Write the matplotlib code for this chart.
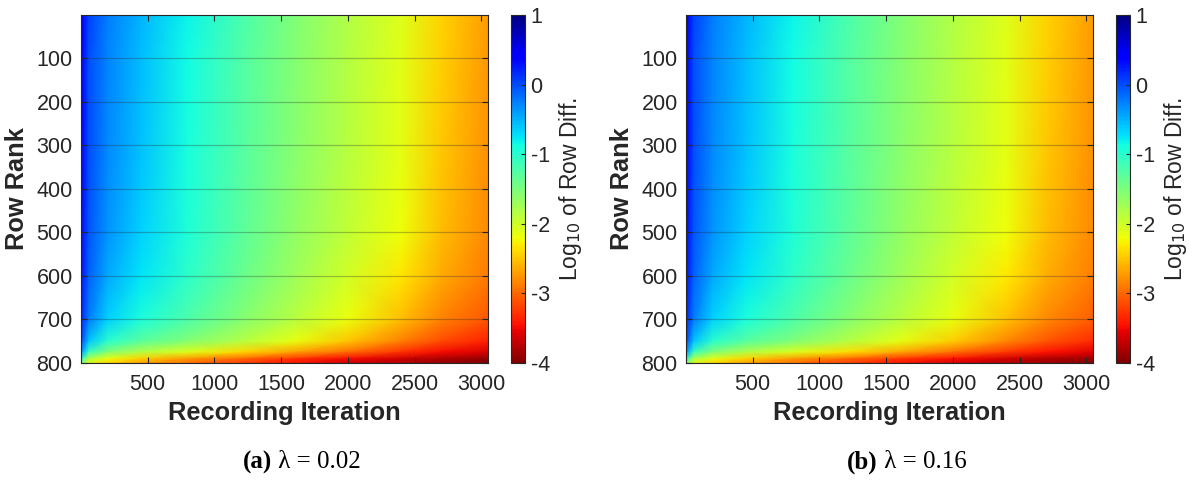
import numpy as np
import matplotlib
matplotlib.use("Agg")
import matplotlib.pyplot as plt

# ---------------- data ----------------
iterations = [1, 15, 60, 200, 450, 800, 1200, 1600, 2000, 2400, 2700, 3050]
row_ranks = [1, 100, 300, 500, 600, 700, 750, 775, 790, 800]

# log10 of row difference, panel (a) lambda = 0.02 (rows x iterations)
log_diff_a = [
    [0.60, 0.35, 0.05, -0.25, -0.52, -0.83, -1.20, -1.52, -1.82, -2.10, -2.42, -2.72],
    [0.60, 0.30, 0.00, -0.28, -0.55, -0.87, -1.23, -1.55, -1.85, -2.12, -2.45, -2.74],
    [0.55, 0.30, 0.00, -0.30, -0.58, -0.90, -1.25, -1.57, -1.87, -2.14, -2.48, -2.77],
    [0.55, 0.25, -0.05, -0.35, -0.65, -0.95, -1.30, -1.62, -1.92, -2.20, -2.54, -2.82],
    [0.50, 0.20, -0.10, -0.45, -0.75, -1.03, -1.38, -1.70, -2.02, -2.33, -2.64, -2.90],
    [0.40, 0.10, -0.25, -0.65, -0.92, -1.22, -1.55, -1.87, -2.18, -2.55, -2.85, -3.10],
    [0.30, -0.10, -0.60, -1.00, -1.30, -1.55, -1.85, -2.15, -2.50, -2.88, -3.15, -3.38],
    [0.00, -0.50, -1.10, -1.55, -1.85, -2.10, -2.40, -2.70, -2.98, -3.28, -3.48, -3.62],
    [-0.40, -1.20, -1.80, -2.15, -2.45, -2.75, -3.00, -3.27, -3.48, -3.66, -3.80, -3.90],
    [-0.90, -1.60, -2.10, -2.40, -2.70, -2.95, -3.22, -3.47, -3.65, -3.80, -3.90, -3.98],
]

# panel (b) lambda = 0.16
log_diff_b = [
    [0.60, 0.35, 0.05, -0.25, -0.52, -0.83, -1.20, -1.52, -1.82, -2.10, -2.42, -2.72],
    [0.60, 0.30, 0.00, -0.28, -0.55, -0.87, -1.23, -1.55, -1.85, -2.12, -2.45, -2.74],
    [0.55, 0.30, 0.00, -0.30, -0.58, -0.90, -1.25, -1.57, -1.87, -2.14, -2.48, -2.77],
    [0.55, 0.25, -0.05, -0.35, -0.65, -0.95, -1.30, -1.62, -1.92, -2.20, -2.54, -2.82],
    [0.50, 0.20, -0.10, -0.45, -0.75, -1.03, -1.38, -1.70, -2.01, -2.31, -2.62, -2.88],
    [0.40, 0.10, -0.25, -0.65, -0.92, -1.22, -1.55, -1.86, -2.16, -2.52, -2.82, -3.06],
    [0.30, -0.10, -0.60, -1.00, -1.28, -1.53, -1.83, -2.13, -2.47, -2.84, -3.10, -3.33],
    [0.00, -0.50, -1.10, -1.52, -1.82, -2.07, -2.37, -2.66, -2.95, -3.24, -3.44, -3.58],
    [-0.40, -1.20, -1.80, -2.12, -2.42, -2.72, -2.97, -3.24, -3.45, -3.63, -3.77, -3.88],
    [-0.90, -1.60, -2.10, -2.40, -2.70, -2.95, -3.20, -3.45, -3.63, -3.78, -3.88, -3.97],
]

x_ticks = [500, 1000, 1500, 2000, 2500, 3000]
y_ticks = [100, 200, 300, 400, 500, 600, 700, 800]
cbar_ticks = [-4, -3, -2, -1, 0, 1]
captions = [("(a)", " λ = 0.02"), ("(b)", " λ = 0.16")]

# ---------------- figure ----------------
W, H = 1198, 482
plt.rcParams['font.family'] = ['Liberation Sans', 'DejaVu Sans']
plt.rcParams['axes.unicode_minus'] = False
fig = plt.figure(figsize=(W / 100, H / 100), dpi=100)

dark = (0.15, 0.15, 0.15)
panels = [
    dict(ax=(81, 15, 407, 348), cb=(511, 15, 14, 348), data=log_diff_a, cap_x=302),
    dict(ax=(686, 15, 407, 348), cb=(1116, 15, 14, 348), data=log_diff_b, cap_x=907),
]

X, Y = np.meshgrid(iterations, row_ranks)
cap_texts = []

for p, cap in zip(panels, captions):
    l, t, w, h = p['ax']
    ax = fig.add_axes([l / W, 1 - (t + h) / H, w / W, h / H])
    mesh = ax.pcolormesh(X, Y, np.array(p['data']), shading='gouraud',
                         cmap='jet_r', vmin=-4, vmax=1)
    ax.set_xlim(1, 3050)
    ax.set_ylim(800, 1)
    ax.set_xticks(x_ticks)
    ax.set_yticks(y_ticks)
    ax.tick_params(direction='in', length=4, width=0.8, colors=dark,
                   labelsize=15.5, top=True, right=True)
    ax.tick_params(axis='x', pad=8)
    ax.tick_params(axis='y', pad=6)
    for sp in ax.spines.values():
        sp.set_color(dark)
        sp.set_linewidth(0.8)
    ax.yaxis.grid(True, color=(0.15, 0.15, 0.15), alpha=0.3, linewidth=0.9)
    ax.set_axisbelow(False)
    ax.set_xlabel("Recording Iteration", fontsize=18.3, fontweight='bold',
                  color=dark, labelpad=4)
    ax.set_ylabel("Row Rank", fontsize=18.3, fontweight='bold', color=dark,
                  labelpad=5)

    cl, ct, cw, ch = p['cb']
    cax = fig.add_axes([cl / W, 1 - (ct + ch) / H, cw / W, ch / H])
    cb = fig.colorbar(mesh, cax=cax, ticks=cbar_ticks)
    cb.outline.set_edgecolor(dark)
    cb.outline.set_linewidth(0.8)
    cax.tick_params(direction='in', length=3, width=0.8, colors=dark,
                    labelsize=15.5, pad=4)
    cb.set_label("Log$_{10}$ of Row Diff.", fontsize=16.5, color=dark, labelpad=5)

    # caption: bold label + regular text, centred together
    t1 = fig.text(0, 1 - 462 / H, cap[0], family=['Liberation Serif'],
                  fontweight='bold', fontsize=18, ha='left', va='center')
    t2 = fig.text(0, 1 - 462 / H, cap[1], family=['Liberation Serif'],
                  fontsize=18, ha='left', va='center')
    cap_texts.append((t1, t2, p['cap_x']))

fig.canvas.draw()
r = fig.canvas.get_renderer()
for t1, t2, cx in cap_texts:
    w1 = t1.get_window_extent(r).width
    w2 = t2.get_window_extent(r).width
    x0 = cx - (w1 + w2) / 2
    t1.set_x(x0 / W)
    t2.set_x((x0 + w1) / W)

fig.savefig("out.png", dpi=100)
